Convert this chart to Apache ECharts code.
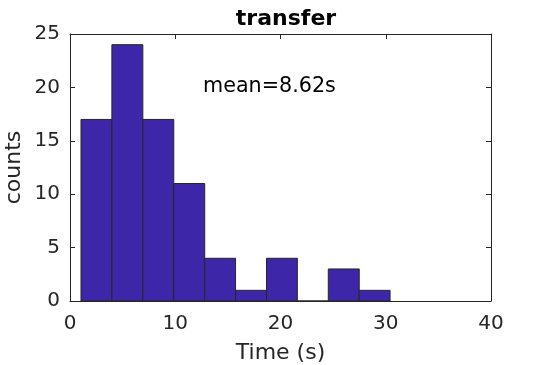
<!DOCTYPE html>
<html>
<head>
<meta charset="utf-8">
<script src="https://cdn.jsdelivr.net/npm/echarts@6/dist/echarts.min.js"></script>
<style>html,body{margin:0;padding:0;background:#fff}#c{width:542px;height:365px}</style>
</head>
<body>
<div id="c"></div>
<script>
var binEdges = [1.045, 3.98, 6.92, 9.86, 12.8, 15.73, 18.67, 21.6, 24.54, 27.48, 30.41];
var counts = [17, 24, 17, 11, 4, 1, 4, 0, 3, 1];
var xTicks = [0, 10, 20, 30, 40];
var yTicks = [0, 5, 10, 15, 20, 25];
var titleText = 'transfer';
var meanText = 'mean=8.62s';

var data = counts.map(function (c, i) { return [binEdges[i], binEdges[i + 1], c]; });
var font = 'DejaVu Sans';
var axisCol = '#262626';
var chart = echarts.init(document.getElementById('c'), null, { renderer: 'canvas' });
function common() {
  return {
    axisLine: { show: true, onZero: false, lineStyle: { color: axisCol, width: 1 } },
    axisTick: { show: true, inside: true, length: 5, lineStyle: { color: axisCol } },
    splitLine: { show: false }
  };
}
var xMin = xTicks[0], xMax = xTicks[xTicks.length - 1], xInt = xTicks[1] - xTicks[0];
var yMin = yTicks[0], yMax = yTicks[yTicks.length - 1], yInt = yTicks[1] - yTicks[0];
chart.setOption({
  animation: false,
  backgroundColor: '#fff',
  title: { text: titleText, left: 281, top: 3, textAlign: 'center',
    textStyle: { fontFamily: font, fontWeight: 'bold', fontSize: 22, color: '#000' } },
  grid: { left: 70, top: 34, width: 421, height: 267, containLabel: false, outerBoundsMode: 'none' },
  xAxis: [
    Object.assign(common(), { type: 'value', min: xMin, max: xMax, interval: xInt, position: 'bottom',
      name: 'Time (s)', nameLocation: 'middle', nameGap: 41, nameMoveOverlap: false,
      nameTextStyle: { fontFamily: font, fontSize: 22, color: '#262626' },
      axisLabel: { fontFamily: font, fontSize: 20, color: '#262626', margin: 13 } }),
    Object.assign(common(), { type: 'value', min: xMin, max: xMax, interval: xInt, position: 'top',
      axisLabel: { show: false } })
  ],
  yAxis: [
    Object.assign(common(), { type: 'value', min: yMin, max: yMax, interval: yInt, position: 'left',
      name: 'counts', nameLocation: 'middle', nameGap: 45, nameMoveOverlap: false,
      nameTextStyle: { fontFamily: font, fontSize: 22, color: '#262626' },
      axisLabel: { fontFamily: font, fontSize: 20, color: '#262626', margin: 10, padding: [4, 0, 0, 0] } }),
    Object.assign(common(), { type: 'value', min: yMin, max: yMax, interval: yInt, position: 'right',
      axisLabel: { show: false } })
  ],
  graphic: [{
    type: 'text', left: 203, top: 76,
    style: { text: meanText, fontFamily: font, fontSize: 20.7, fill: '#000' }
  }],
  series: [{
    type: 'custom',
    xAxisIndex: 0, yAxisIndex: 0,
    data: data,
    renderItem: function (params, api) {
      var p0 = api.coord([api.value(0), api.value(2)]);
      var p1 = api.coord([api.value(1), 0]);
      return {
        type: 'rect',
        shape: { x: p0[0], y: p0[1], width: p1[0] - p0[0], height: p1[1] - p0[1] },
        style: { fill: '#3e26a8', stroke: '#262626', lineWidth: 1 }
      };
    }
  }]
});
</script>
</body>
</html>
